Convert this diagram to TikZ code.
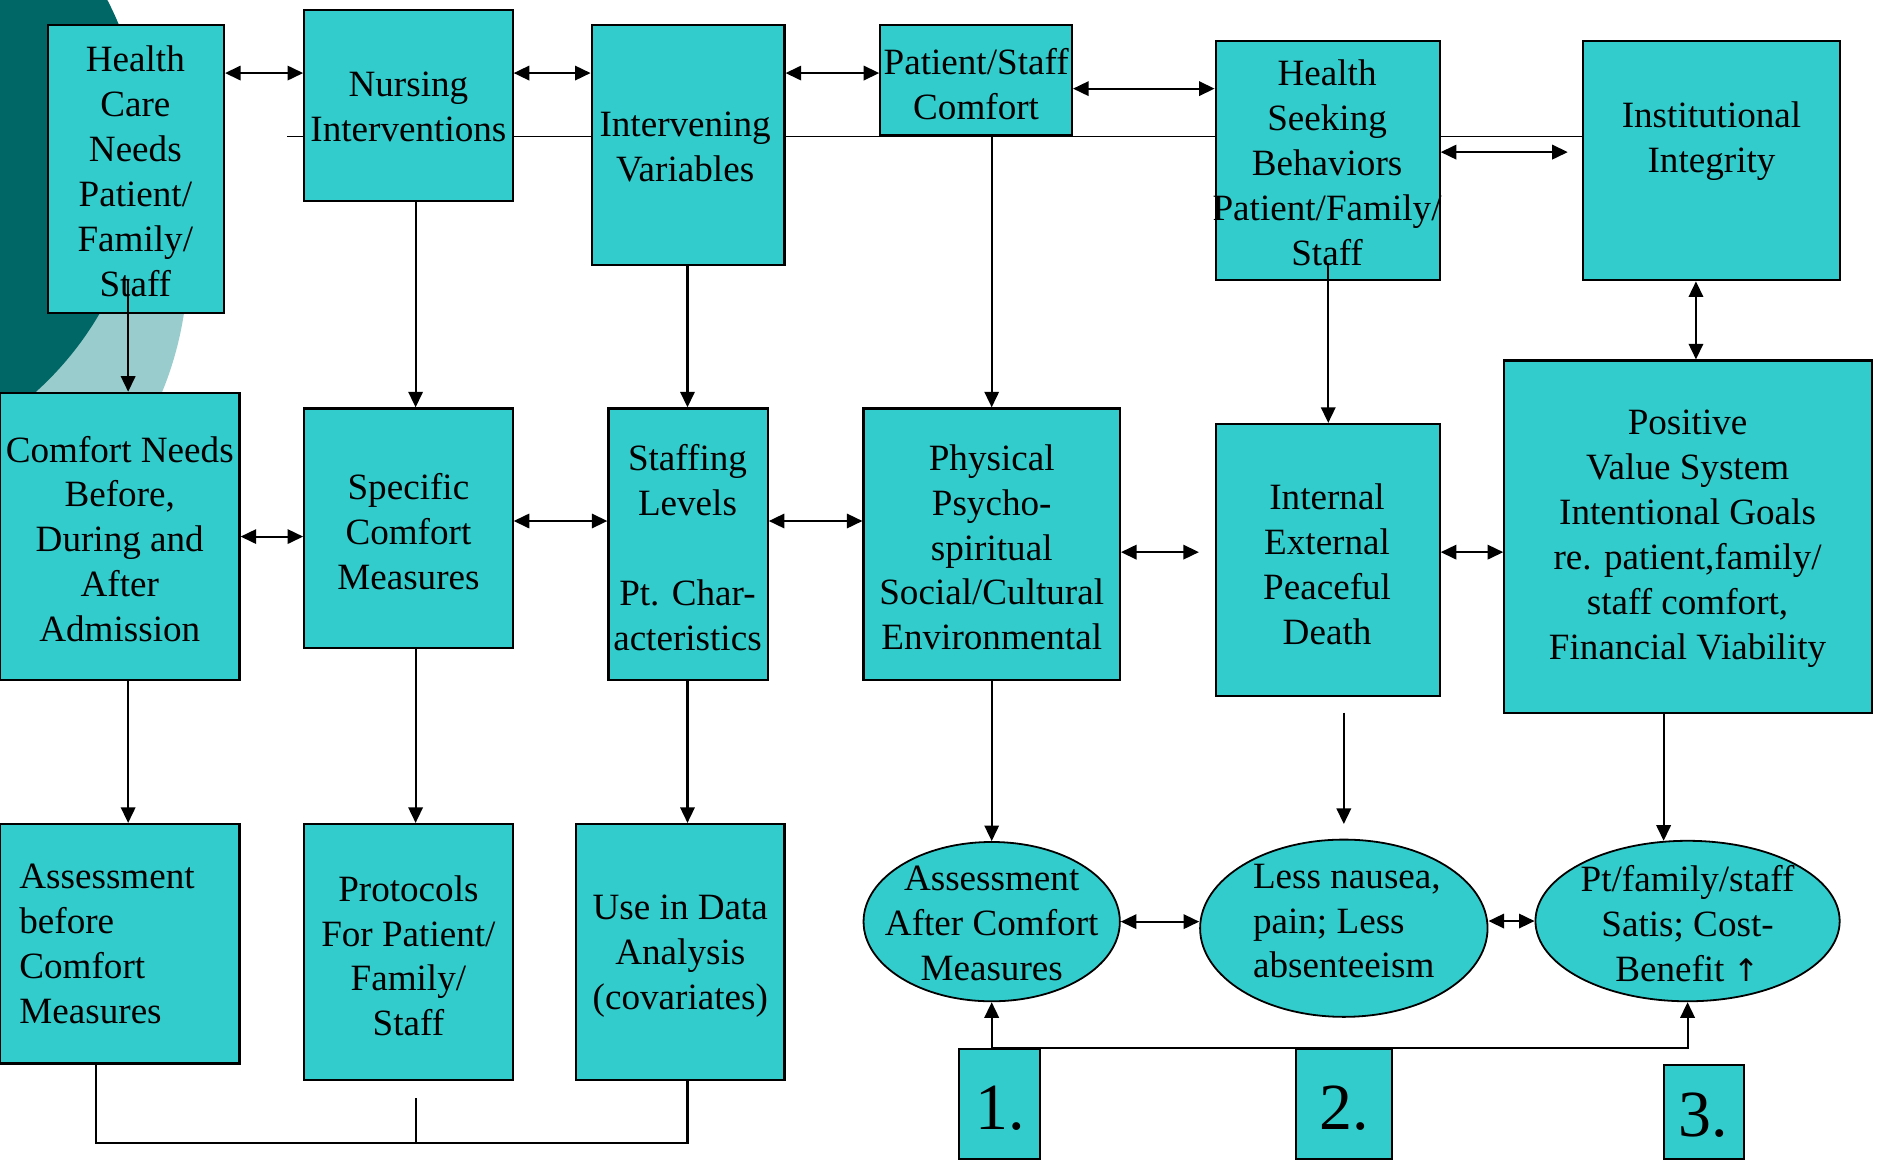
\documentclass[tikz,border=0pt]{standalone}
\usepackage{fontspec}
\setmainfont{Liberation Serif}
\newfontfamily\symfont{DejaVu Sans}
\usetikzlibrary{shapes.geometric,arrows.meta}
\definecolor{boxc}{HTML}{33CCCC}
\definecolor{darkt}{HTML}{006666}
\definecolor{lightt}{HTML}{99CCCC}
\begin{document}
\begin{tikzpicture}[x=1pt,y=-1pt,
 box/.style={draw=black,line width=1.8pt,fill=boxc,rectangle,inner sep=0pt},
 oval/.style={draw=black,line width=1.5pt,fill=boxc,ellipse,inner sep=0pt},
 txt/.style={align=center,inner sep=0pt,font=\fontsize{31}{37.5}\selectfont},
 num/.style={inner sep=0pt,font=\fontsize{55}{60}\selectfont},
 conn/.style={line width=1.8pt},
 thin/.style={line width=1.5pt},
 arr/.style={conn,-{Triangle[length=13pt,width=12pt]}},
 dbl/.style={conn,{Triangle[length=13pt,width=12pt]}-{Triangle[length=13pt,width=12pt]}},
]
\useasboundingbox (0,0) rectangle (1568,969);
\begin{scope}
\clip (0,0) rectangle (1568,969);
\fill[lightt] (-134,217) circle[radius=291pt];
\fill[darkt] (-152,125) circle[radius=272pt];
\end{scope}

% row 1
\node[box,minimum width=147pt,minimum height=240pt] (hcn) at (113.5,141) {};
\node[box,minimum width=174pt,minimum height=160pt] (ni) at (341,88) {};
\node[box,minimum width=161pt,minimum height=200pt] (iv) at (574.5,121) {};
\node[box,minimum width=160pt,minimum height=92pt] (psc) at (815,67) {};
\node[box,minimum width=187pt,minimum height=200pt] (hs) at (1108.5,134) {};
\node[box,minimum width=214pt,minimum height=200pt] (ii) at (1429,134) {};
% row 2
\node[box,minimum width=200pt,minimum height=240pt] (cn) at (100,448) {};
\node[box,minimum width=174pt,minimum height=200pt] (scm) at (341,441) {};
\node[box,minimum width=133pt,minimum height=227pt] (sl) at (574.5,454.5) {};
\node[box,minimum width=214pt,minimum height=227pt] (pps) at (828,454.5) {};
\node[box,minimum width=187pt,minimum height=227pt] (iep) at (1108.5,467.5) {};
\node[box,minimum width=307pt,minimum height=294pt] (pvs) at (1409.5,448) {};
% row 3
\node[box,minimum width=200pt,minimum height=200pt] (abc) at (100,788) {};
\node[box,minimum width=174pt,minimum height=214pt] (pfp) at (341,795) {};
\node[box,minimum width=174pt,minimum height=214pt] (uda) at (568,795) {};
\node[oval,minimum width=214pt,minimum height=133pt] (aac) at (828,769.5) {};
\node[oval,minimum width=240pt,minimum height=148pt] (ln) at (1122,775) {};
\node[oval,minimum width=254pt,minimum height=134pt] (pt) at (1409,769) {};
% numbers
\node[box,minimum width=67pt,minimum height=92pt] (b1) at (834.5,922) {};
\node[box,minimum width=80pt,minimum height=92pt] (b2) at (1122,922) {};
\node[box,minimum width=67pt,minimum height=79pt] (b3) at (1422.5,928.5) {};

% texts
\node[txt] (t-hcn) at (113,143) {Health\\Care\\Needs\\Patient/\\Family/\\Staff};
\node[txt] (t-ni) at (341,89) {Nursing\\Interventions};
\node[txt] (t-iv) at (572,123) {Intervening\\Variables};
\node[txt] (t-psc) at (815,70) {Patient/Staff\\Comfort};
\node[txt] (t-hs) at (1108,136) {Health\\Seeking\\Behaviors\\Patient/Family/\\Staff};
\node[txt] (t-ii) at (1429,118) {Institutional\\Integrity};
\node[txt] (t-cn) at (100,450) {Comfort Needs\\Before,\\During and\\After\\Admission};
\node[txt] (t-scm) at (341,444) {Specific\\Comfort\\Measures};
\node[txt] (t-sl) at (574,457) {Staffing\\Levels\\\mbox{}\\Pt. Char-\\acteristics};
\node[txt] (t-pps) at (828,457) {Physical\\Psycho-\\spiritual\\Social/Cultural\\Environmental};
\node[txt] (t-iep) at (1108,471) {Internal\\External\\Peaceful\\Death};
\node[txt] (t-pvs) at (1409,450) {Positive\\Value System\\Intentional Goals\\re. patient,family/\\staff comfort,\\Financial Viability};
\node[txt,align=left,anchor=west] (t-abc) at (16,788) {Assessment\\before\\Comfort\\Measures};
\node[txt] (t-pfp) at (341,798) {Protocols\\For Patient/\\Family/\\Staff};
\node[txt] (t-uda) at (568,798) {Use in Data\\Analysis\\(covariates)};
\node[txt] (t-aac) at (828,771) {Assessment\\After Comfort\\Measures};
\node[txt,align=left,anchor=west] (t-ln) at (1046,769) {Less nausea,\\pain; Less\\absenteeism};
\node[txt] (t-pt) at (1409,771) {Pt/family/staff\\Satis; Cost-\\Benefit {\symfont\fontsize{26}{30}\selectfont ↑}};
\node[num] (t-b1) at (835,925) {1.};
\node[num] (t-b2) at (1122,925) {2.};
\node[num] (t-b3) at (1422,931) {3.};

% long thin line through the top row
\coordinate (lstart) at (240,114);
\draw[thin] (lstart) -- (ni.west |- lstart);
\draw[thin] (ni.east |- lstart) -- (iv.west |- lstart);
\draw[thin] (iv.east |- lstart) -- (hs.west |- lstart);
\draw[thin] (hs.east |- lstart) -- (ii.west |- lstart);

% top row arrows
\draw[dbl] (hcn.east |- 0,61) -- (ni.west |- 0,61);
\draw[dbl] (ni.east |- 0,61) -- (iv.west |- 0,61);
\draw[dbl] (iv.east |- 0,61) -- (psc.west |- 0,61);
\draw[dbl] (psc.east |- 0,74) -- (hs.west |- 0,74);
\coordinate (iiin) at (1309,127);
\draw[dbl] (hs.east |- iiin) -- (iiin);

% row1 -> row2
\coordinate (hcnout) at (107,234);
\draw[arr] (hcnout) -- (cn.north -| hcnout);
\draw[arr] (ni.south -| 347,0) -- (scm.north -| 347,0);
\draw[arr] (iv.south -| 574,0) -- (sl.north -| 574,0);
\draw[arr] (psc.south -| 828,0) -- (pps.north -| 828,0);
\coordinate (hsout) at (1109,220);
\draw[arr] (hsout) -- (iep.north -| hsout);
\draw[dbl] (ii.south -| 1416,0) -- (pvs.north -| 1416,0);

% row 2 arrows
\draw[dbl] (cn.east |- 0,448) -- (scm.west |- 0,448);
\draw[dbl] (scm.east |- 0,435) -- (sl.west |- 0,435);
\draw[dbl] (sl.east |- 0,435) -- (pps.west |- 0,435);
\coordinate (iepin) at (1001,461);
\draw[dbl] (pps.east |- iepin) -- (iepin);
\draw[dbl] (iep.east |- 0,461) -- (pvs.west |- 0,461);

% row2 -> row3
\draw[arr] (cn.south -| 107,0) -- (abc.north -| 107,0);
\draw[arr] (scm.south -| 347,0) -- (pfp.north -| 347,0);
\draw[arr] (sl.south -| 574,0) -- (uda.north -| 574,0);
\draw[arr] (pps.south -| 828,0) -- (aac.north);
\coordinate (lnfrom) at (1122,595);
\coordinate (lnto) at (1122,688);
\draw[arr] (lnfrom) -- (lnto);
\coordinate (ptin) at (1389,702);
\draw[arr] (pvs.south -| ptin) -- (ptin);

% row 3 arrows
\draw[dbl] (aac.east) -- (ln.west |- aac.east);
\draw[dbl] (ln.east |- pt.west) -- (pt.west);

% number connectors
\draw[arr] (b1.north -| aac.south) -- (aac.south);
\draw[arr] (b1.north -| aac.south) -| (pt.south);

% bottom bracket
\coordinate (brl) at (80,954);
\coordinate (brm) at (347,954);
\coordinate (brt) at (347,917);
\draw[conn] (abc.south -| brl) -- (brl) -| (uda.south -| 574,0);
\draw[conn] (brt) -- (brm);
\end{tikzpicture}
\end{document}
